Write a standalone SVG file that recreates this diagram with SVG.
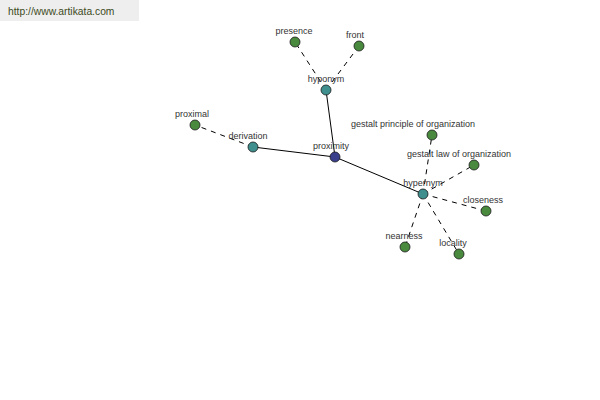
<svg xmlns="http://www.w3.org/2000/svg" width="600" height="400" viewBox="0 0 600 400">
<style>
.n{stroke:#1a1a1a;stroke-width:0.8}
.g{fill:#4a8a3e}
.t{fill:#3f8f8f}
.p{fill:#3a3f8c}
text{font-family:"Liberation Sans",Arial,sans-serif;font-size:9px;fill:#333;text-anchor:middle}
.s{stroke:#000;stroke-width:1;fill:none}
.d{stroke:#000;stroke-width:1;fill:none;stroke-dasharray:5,5}
</style>
<rect width="600" height="400" fill="#fff"/>
<rect x="0" y="0" width="139" height="21" fill="#eeeeee"/>
<text x="8" y="15" style="text-anchor:start;font-size:10.3px;fill:#3d4a22">http://www.artikata.com</text>
<g id="connectors">
<line class="s" x1="335" y1="157" x2="326" y2="90"/>
<line class="s" x1="335" y1="157" x2="253" y2="147"/>
<line class="s" x1="335" y1="157" x2="423" y2="194"/>
<line class="d" x1="326" y1="90" x2="295" y2="42"/>
<line class="d" x1="326" y1="90" x2="359" y2="46"/>
<line class="d" x1="253" y1="147" x2="195" y2="125"/>
<line class="d" x1="423" y1="194" x2="432" y2="135"/>
<line class="d" x1="423" y1="194" x2="474" y2="165"/>
<line class="d" x1="423" y1="194" x2="486" y2="211"/>
<line class="d" x1="423" y1="194" x2="405" y2="247"/>
<line class="d" x1="423" y1="194" x2="459" y2="254"/>
</g>
<g id="presence"><circle class="n g" cx="295" cy="42" r="5"/><text x="294" y="34">presence</text></g>
<g id="front"><circle class="n g" cx="359" cy="46" r="5"/><text x="355" y="38">front</text></g>
<g id="hyponym"><circle class="n t" cx="326" cy="90" r="5"/><text x="326" y="82">hyponym</text></g>
<g id="proximal"><circle class="n g" cx="195" cy="125" r="5"/><text x="192" y="117">proximal</text></g>
<g id="derivation"><circle class="n t" cx="253" cy="147" r="5"/><text x="248" y="139">derivation</text></g>
<g id="proximity"><circle class="n p" cx="335" cy="157" r="5"/><text x="331" y="149">proximity</text></g>
<g id="gestalt-principle"><circle class="n g" cx="432" cy="135" r="5"/><text x="413" y="127">gestalt principle of organization</text></g>
<g id="gestalt-law"><circle class="n g" cx="474" cy="165" r="5"/><text x="459" y="157">gestalt law of organization</text></g>
<g id="hypernym"><circle class="n t" cx="423" cy="194" r="5"/><text x="423" y="186">hypernym</text></g>
<g id="closeness"><circle class="n g" cx="486" cy="211" r="5"/><text x="483" y="203">closeness</text></g>
<g id="nearness"><circle class="n g" cx="405" cy="247" r="5"/><text x="404" y="239">nearness</text></g>
<g id="locality"><circle class="n g" cx="459" cy="254" r="5"/><text x="453" y="246">locality</text></g>
</svg>
